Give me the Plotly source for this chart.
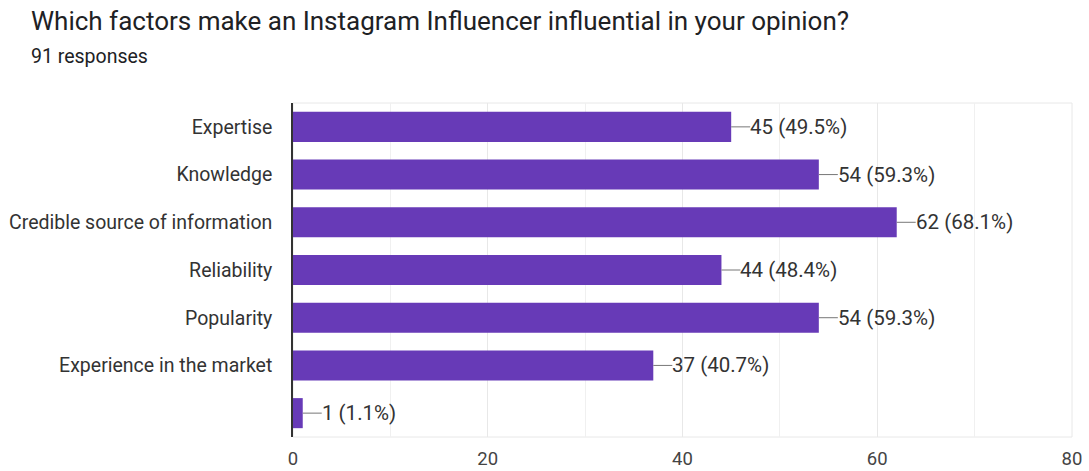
import plotly.graph_objects as go

categories = ["Expertise", "Knowledge", "Credible source of information", "Reliability",
              "Popularity", "Experience in the market", " "]
counts = [45, 54, 62, 44, 54, 37, 1]
percents = ["49.5%", "59.3%", "68.1%", "48.4%", "59.3%", "40.7%", "1.1%"]
x_ticks = [0, 20, 40, 60, 80]

bar_color = "#673ab7"
text_color = "#333333"
font_family = "Roboto, Arial, sans-serif"

fig = go.Figure()
fig.add_trace(go.Bar(
    y=categories, x=counts, orientation="h",
    marker=dict(color=bar_color, line=dict(width=0)),
    width=0.63, hoverinfo="x+y",
))

for c, v, p in zip(categories, counts, percents):
    fig.add_shape(type="line", xref="x", yref="y", xsizemode="pixel", xanchor=v,
                  x0=0, x1=19, y0=c, y1=c, line=dict(color="#777777", width=1))
    fig.add_annotation(x=v, y=c, xref="x", yref="y", text=f"{v} ({p})",
                       showarrow=False, xanchor="left", xshift=17,
                       font=dict(size=20.5, color=text_color, family=font_family))

fig.add_annotation(text="Which factors make an Instagram Influencer influential in your opinion?",
                   xref="paper", yref="paper", x=0, y=1, xanchor="left", yanchor="top",
                   xshift=-264, yshift=99, showarrow=False,
                   font=dict(size=26, color="#202124", family=font_family))
fig.add_annotation(text="91 responses", xref="paper", yref="paper", x=0, y=1,
                   xanchor="left", yanchor="top", xshift=-264, yshift=60, showarrow=False,
                   font=dict(size=19.5, color="#202124", family=font_family))

fig.update_layout(
    width=1089, height=471,
    margin=dict(l=293, r=17, t=103, b=34, autoexpand=False),
    paper_bgcolor="white", plot_bgcolor="white",
    showlegend=False, bargap=0.37,
    font=dict(family=font_family, color=text_color),
)
fig.update_xaxes(range=[0, 80], tickvals=x_ticks, ticktext=[str(t) for t in x_ticks],
                 showgrid=True, gridcolor="#e8e8e8", gridwidth=1,
                 minor=dict(dtick=10, showgrid=True, gridcolor="#f0f0f0"),
                 zeroline=False, showline=False, automargin=False,
                 tickfont=dict(size=18.5, color="#444444"), ticks="", ticklabelstandoff=8)
fig.update_yaxes(categoryorder="array", categoryarray=categories, autorange="reversed",
                 showline=True, linecolor="#333333", linewidth=1.5, automargin=False,
                 tickfont=dict(size=19.5, color=text_color), ticks="", ticklabelstandoff=15,
                 showgrid=False)
fig.add_shape(type="rect", xref="paper", yref="paper", x0=0, x1=1, y0=0, y1=1,
              line=dict(color="#e8e8e8", width=1), layer="below")

fig.write_html("out.html")
